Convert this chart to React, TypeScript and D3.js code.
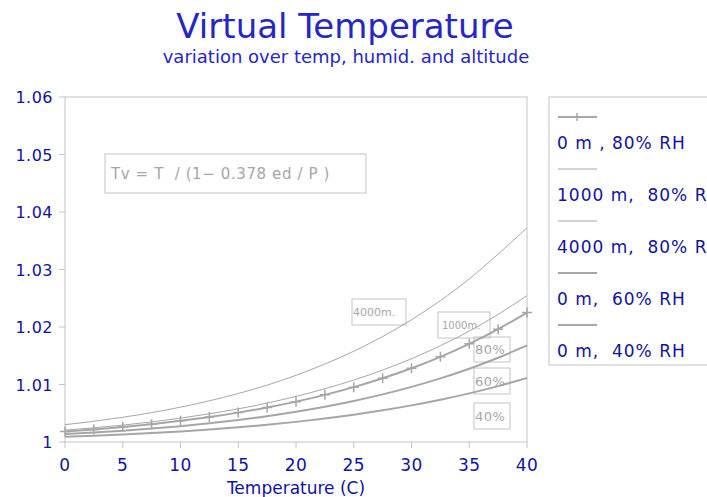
import React from 'react'
import * as d3 from 'd3'

// temperature steps (C)
const temps = [0, 2.5, 5, 7.5, 10, 12.5, 15, 17.5, 20, 22.5, 25, 27.5, 30, 32.5, 35, 37.5, 40]

// Tv / T ratio per series
const sea80 = [1.00183, 1.00219, 1.00261, 1.0031, 1.00368, 1.00434, 1.00511, 1.006, 1.00702, 1.0082, 1.00954, 1.01108, 1.01282, 1.01481, 1.01707, 1.01963, 1.02251]
const km1_80 = [1.00206, 1.00247, 1.00294, 1.0035, 1.00415, 1.0049, 1.00577, 1.00677, 1.00793, 1.00926, 1.01077, 1.01251, 1.01448, 1.01674, 1.01929, 1.02219, 1.02546]
const km4_80 = [1.00301, 1.0036, 1.0043, 1.00511, 1.00606, 1.00716, 1.00843, 1.00989, 1.0116, 1.01356, 1.01578, 1.01834, 1.02126, 1.02459, 1.02837, 1.03268, 1.03725]
const sea60 = [1.00137, 1.00164, 1.00196, 1.00233, 1.00276, 1.00325, 1.00383, 1.00449, 1.00526, 1.00614, 1.00714, 1.00828, 1.00959, 1.01107, 1.01275, 1.01465, 1.01679]
const sea40 = [1.00091, 1.00109, 1.0013, 1.00155, 1.00184, 1.00217, 1.00255, 1.00299, 1.0035, 1.00408, 1.00475, 1.00551, 1.00637, 1.00735, 1.00846, 1.00972, 1.01113]

const xTicks = [0, 5, 10, 15, 20, 25, 30, 35, 40]
const yTicks = [1, 1.01, 1.02, 1.03, 1.04, 1.05, 1.06]

// double spaces kept with a no-break space
const series = [
  { label: '0 m , 80% RH', values: sea80, width: 2, marker: true },
  { label: '1000 m,\u00a0 80% RH', values: km1_80, width: 1, marker: false },
  { label: '4000 m,\u00a0 80% RH', values: km4_80, width: 1, marker: false },
  { label: '0 m,\u00a0 60% RH', values: sea60, width: 2, marker: false },
  { label: '0 m,\u00a0 40% RH', values: sea40, width: 2, marker: false },
]

const notes = [
  { text: 'Tv = T\u00a0 / (1\u2212 0.378 ed / P )', x: 105, y: 154, w: 261, h: 39, size: 15, pad: 6, ls: 0.6 },
  { text: '4000m.', x: 352, y: 299, w: 54, h: 26, size: 11, pad: 1, ls: 0 },
  { text: '1000m.', x: 438, y: 312, w: 52, h: 26, size: 10, pad: 4, ls: 0 },
  { text: '80%', x: 474, y: 337, w: 36, h: 25, size: 13, pad: 1, ls: 0.5 },
  { text: '60%', x: 474, y: 368, w: 36, h: 26, size: 13, pad: 1, ls: 0.5 },
  { text: '40%', x: 474, y: 403, w: 36, h: 26, size: 13, pad: 1, ls: 0.5 },
]

const BLUE = '#12129e'
const TITLE = '#2626c4'
const GRAY = '#a6a6a6'
const FRAME = '#c4c4c4'
const FONT = '"DejaVu Sans", sans-serif'

export default function App() {
  const x = d3.scaleLinear().domain([0, 40]).range([65, 527])
  const y = d3.scaleLinear().domain([1, 1.06]).range([442, 97])

  const line = d3.line<number>()
    .x((_, i) => x(temps[i]))
    .y(d => y(d))
    .curve(d3.curveMonotoneX)

  return (
    <svg width={707} height={497} style={{ position: 'absolute', left: 0, top: 0, background: '#fff' }} fontFamily={FONT}>
      <text x={345} y={38} textAnchor="middle" fontSize={34} fill={TITLE}>Virtual Temperature</text>
      <text x={346} y={63} textAnchor="middle" fontSize={18} fill={TITLE}>variation over temp, humid. and altitude</text>

      {/* frame */}
      <rect x={65} y={97} width={462} height={345} fill="none" stroke={FRAME} />

      {/* y axis */}
      {yTicks.map(t => (
        <g key={t}>
          <line x1={59} x2={65} y1={y(t)} y2={y(t)} stroke={FRAME} />
          <text x={53} y={y(t) + 6} textAnchor="end" fontSize={16} fill={BLUE} letterSpacing={0.5}>{d3.format('')(t)}</text>
        </g>
      ))}

      {/* x axis */}
      {xTicks.map(t => (
        <g key={t}>
          <line x1={x(t)} x2={x(t)} y1={442} y2={448} stroke={FRAME} />
          <text x={x(t)} y={471} textAnchor="middle" fontSize={17} fill={BLUE} letterSpacing={0.5}>{t}</text>
        </g>
      ))}
      <text x={296} y={494} textAnchor="middle" fontSize={17} fill={BLUE}>Temperature (C)</text>

      {/* annotation boxes */}
      {notes.map(n => (
        <g key={n.text}>
          <rect x={n.x} y={n.y} width={n.w} height={n.h} fill="none" stroke={FRAME} />
          <text x={n.x + n.pad} y={n.y + n.h / 2 + n.size * 0.36} fontSize={n.size} fill={GRAY} letterSpacing={n.ls}>{n.text}</text>
        </g>
      ))}

      {/* curves */}
      {series.map(s => (
        <g key={s.label}>
          <path d={line(s.values) || ''} fill="none" stroke={GRAY} strokeWidth={s.width} />
          {s.marker && s.values.map((v, i) => (
            <path key={i} d={`M${x(temps[i]) - 5},${y(v)}h10M${x(temps[i])},${y(v) - 5}v10`} stroke={GRAY} strokeWidth={1.5} />
          ))}
        </g>
      ))}

      {/* legend, runs off the right edge as in the original */}
      <rect x={549} y={97} width={200} height={268} fill="#fff" stroke={FRAME} />
      {series.map((s, i) => {
        const ly = 117 + i * 52
        return (
          <g key={s.label}>
            <line x1={558} x2={597} y1={ly} y2={ly} stroke={GRAY} strokeWidth={s.width === 2 ? 2 : 1} />
            {s.marker && <path d={`M577,${ly - 4}v8`} stroke={GRAY} strokeWidth={1.5} />}
            <text x={557} y={ly + 32} fontSize={17} fill={BLUE} letterSpacing={1}>{s.label}</text>
          </g>
        )
      })}
    </svg>
  )
}
